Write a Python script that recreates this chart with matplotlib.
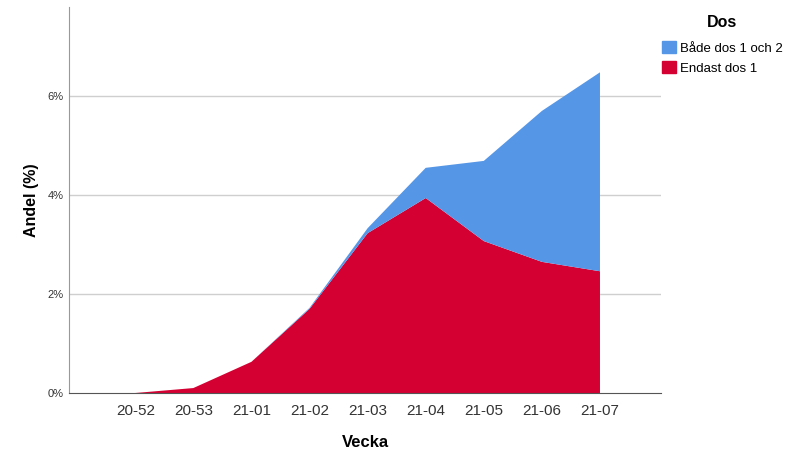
import matplotlib.pyplot as plt
import numpy as np
from matplotlib.patches import Patch

plt.rcParams['font.family'] = ['Liberation Sans', 'DejaVu Sans']

# Veckor och andelar (%)
veckor = ['20-52', '20-53', '21-01', '21-02', '21-03', '21-04', '21-05', '21-06', '21-07']
endast_dos1 = [0.0, 0.10, 0.63, 1.70, 3.23, 3.94, 3.07, 2.65, 2.46]
bada_doser = [0.0, 0.0, 0.0, 0.02, 0.10, 0.61, 1.62, 3.05, 4.02]

red = '#D50032'
blue = '#5596E6'

fig = plt.figure(figsize=(7.88, 4.51), dpi=100)
ax = fig.add_axes([0.0876, 0.1286, 0.7512, 0.8559])

x = np.arange(len(veckor))
ax.stackplot(x, endast_dos1, bada_doser, colors=[red, blue], linewidth=0, zorder=2)

ax.set_xlim(-1.14, 9.05)
ax.set_ylim(0, 7.8)
ax.set_xticks(x)
ax.set_xticklabels(veckor, fontsize=11, color='#333333')
ax.set_yticks([0, 2, 4, 6])
ax.set_yticklabels(['0%', '2%', '4%', '6%'], fontsize=8, color='#333333')
ax.tick_params(length=0)
ax.tick_params(axis='y', pad=4)
ax.tick_params(axis='x', pad=8)

for yv in [2, 4, 6]:
    ax.axhline(yv, color='#cfcfcf', lw=1, zorder=1)

for s in ['top', 'right']:
    ax.spines[s].set_visible(False)
ax.spines['left'].set_color('#999999')
ax.spines['bottom'].set_color('#555555')

ax.set_xlabel('Vecka', fontsize=12, fontweight='bold', labelpad=12)
ax.set_ylabel('Andel (%)', fontsize=11.5, fontweight='bold', labelpad=6)

handles = [Patch(color=blue, label='Både dos 1 och 2'), Patch(color=red, label='Endast dos 1')]
leg = ax.legend(handles=handles, loc='upper left', bbox_to_anchor=(0.834, 0.978),
                bbox_transform=fig.transFigure, frameon=False, fontsize=9.5,
                handlelength=1.0, handleheight=1.0, handletextpad=0.3,
                labelspacing=0.5, title='Dos', borderaxespad=0)
leg.get_title().set_fontweight('bold')
leg.get_title().set_fontsize(11.5)
leg._legend_box.sep = 8

fig.savefig('out.png', dpi=100)
